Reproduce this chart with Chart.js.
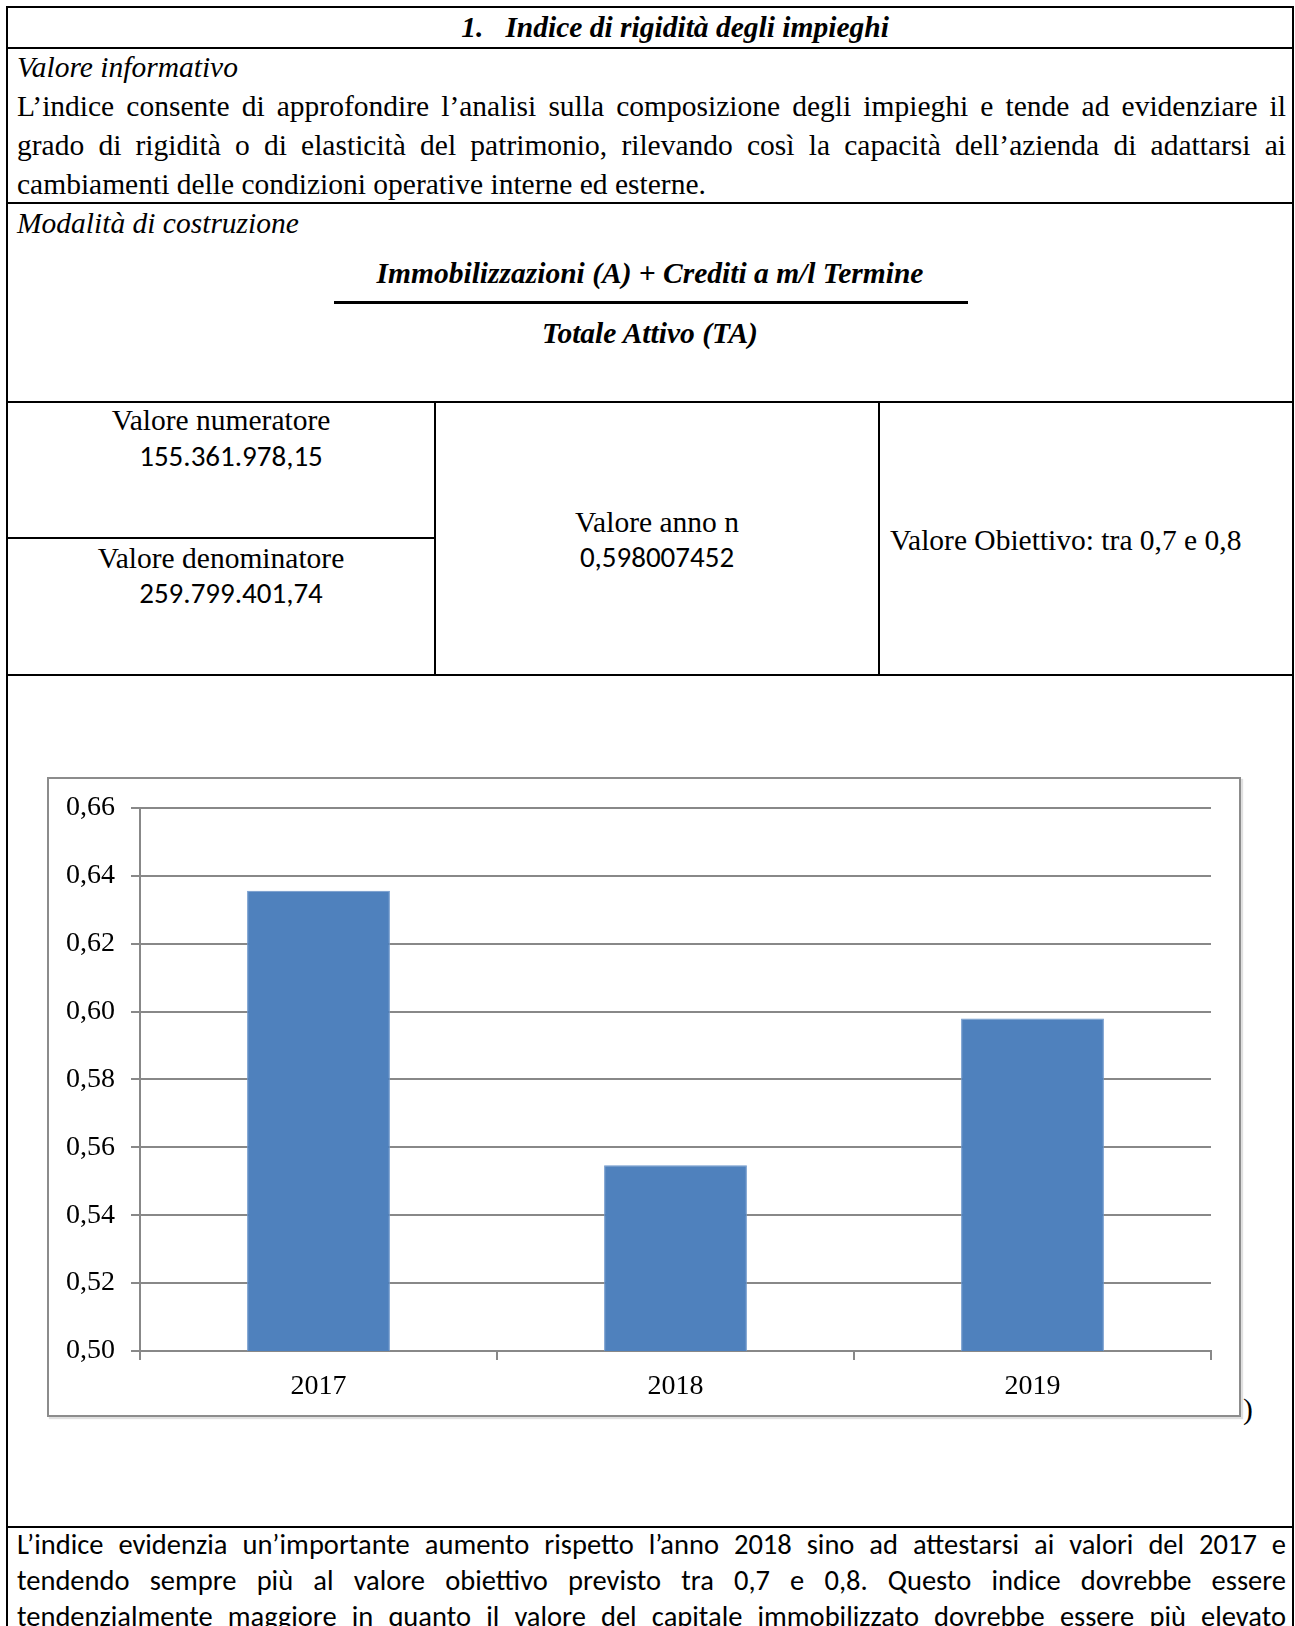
<!DOCTYPE html>
<html lang="it">
<head>
<meta charset="utf-8">
<title>Indice di rigidità degli impieghi</title>
<script src="https://cdn.jsdelivr.net/npm/chart.js@4.4.1/dist/chart.umd.min.js"></script>
<style>
    html, body { margin: 0; padding: 0; background: #fff; }
    body {
        width: 1295px; height: 1626px; overflow: hidden; position: relative;
        font-family: 'Liberation Serif', 'Times New Roman', serif;
        font-size: 29.5px; color: #000;
    }
    .abs     { position: absolute; }
    .linea-h { position: absolute; height: 2px; background: #000; }
    .linea-v { position: absolute; width: 2px;  background: #000; }
    .just    { text-align: justify; text-align-last: justify; }
    .sans    { font-family: Carlito, Calibri, Lato, sans-serif; font-size: 28.5px; }
    .numero  { font-family: Carlito, Calibri, Lato, sans-serif; font-size: 29px; }
    .centro  { text-align: center; }

    #cornice {
        position: absolute; left: 47px; top: 777px; width: 1194px; height: 640px;
        box-sizing: border-box; border: 2px solid #8c8c8c;
        box-shadow: 2px 2px 1px rgba(0,0,0,0.12);
    }
    #graficoWrap { position: absolute; left: 48px; top: 778px; width: 1192px; height: 638px; }
</style>
</head>
<body>

<!-- bordi della tabella -->
<div class="linea-h" style="left:6px;top:6px;width:1288px"></div>
<div class="linea-v" style="left:6px;top:6px;height:1620px"></div>
<div class="linea-v" style="left:1292px;top:6px;height:1620px"></div>
<div class="linea-h" style="left:6px;top:47px;width:1288px"></div>
<div class="linea-h" style="left:6px;top:202px;width:1288px"></div>
<div class="linea-h" style="left:6px;top:401px;width:1288px"></div>
<div class="linea-h" style="left:6px;top:674px;width:1288px"></div>
<div class="linea-h" style="left:6px;top:1526px;width:1288px"></div>
<div class="linea-v" style="left:434px;top:401px;height:275px"></div>
<div class="linea-v" style="left:878px;top:401px;height:275px"></div>
<div class="linea-h" style="left:6px;top:537px;width:430px"></div>

<!-- titolo -->
<div class="abs centro" style="left:8px;top:8px;width:1234px;padding-left:50px;line-height:39px;font-weight:bold;font-style:italic">
    1.&nbsp;&nbsp;&nbsp;Indice di rigidità degli impieghi
</div>

<!-- valore informativo -->
<div class="abs" style="left:17px;top:48px;width:1269px;line-height:39px">
    <div><i>Valore informativo</i></div>
    <div class="just">L’indice consente di approfondire l’analisi sulla composizione degli impieghi e tende ad evidenziare il</div>
    <div class="just">grado di rigidità o di elasticità del patrimonio, rilevando così la capacità dell’azienda di adattarsi ai</div>
    <div>cambiamenti delle condizioni operative interne ed esterne.</div>
</div>

<!-- modalità di costruzione -->
<div class="abs" style="left:17px;top:204px;line-height:39px"><i>Modalità di costruzione</i></div>
<div class="abs centro" style="left:8px;top:254px;width:1284px;line-height:39px;font-weight:bold;font-style:italic">
    Immobilizzazioni (A) + Crediti a m/l Termine
</div>
<div class="abs" style="left:334px;top:301px;width:634px;height:3px;background:#000"></div>
<div class="abs centro" style="left:8px;top:314px;width:1284px;line-height:39px;font-weight:bold;font-style:italic">
    Totale Attivo (TA)
</div>

<!-- valori -->
<div class="abs centro" style="left:8px;top:403px;width:426px;line-height:34px">Valore numeratore</div>
<div class="abs centro numero" style="left:28px;top:439px;width:406px;line-height:34px">155.361.978,15</div>
<div class="abs centro" style="left:8px;top:541px;width:426px;line-height:34px">Valore denominatore</div>
<div class="abs centro numero" style="left:28px;top:576px;width:406px;line-height:34px">259.799.401,74</div>

<div class="abs centro" style="left:436px;top:505px;width:442px;line-height:34px">Valore anno n</div>
<div class="abs centro numero" style="left:436px;top:540px;width:442px;line-height:34px">0,598007452</div>

<div class="abs" style="left:890px;top:523px;line-height:34px">Valore Obiettivo: tra 0,7 e 0,8</div>

<!-- grafico -->
<div id="cornice"></div>
<div id="graficoWrap"><canvas id="grafico" width="1192" height="638"></canvas></div>
<div class="abs" style="left:1243px;top:1391px;line-height:36px">)</div>

<!-- commento -->
<div class="abs sans" style="left:17px;top:1527px;width:1269px;line-height:36px">
    <div class="just">L’indice evidenzia un’importante aumento rispetto l’anno 2018 sino ad attestarsi ai valori del 2017 e</div>
    <div class="just">tendendo sempre più al valore obiettivo previsto tra 0,7 e 0,8. Questo indice dovrebbe essere</div>
    <div class="just">tendenzialmente maggiore in quanto il valore del capitale immobilizzato dovrebbe essere più elevato</div>
</div>

<script>
/* ── Dati ── */
const anni         = ['2017', '2018', '2019'];
const valoriIndice = [0.6356, 0.5547, 0.598007452];

const yMin  = 0.50;
const yMax  = 0.66;
const yStep = 0.02;

/* ── Stile ── */
const grigio   = '#888888';
const fontAssi = { family: "'Liberation Serif', serif", size: 28 };

/* ── Grafico a barre ── */
const ctx = document.getElementById('grafico').getContext('2d');

new Chart(ctx, {
    type: 'bar',
    data: {
        labels: anni,
        datasets: [{
            data: valoriIndice,
            backgroundColor: '#4f81bd',
            borderColor: '#6d97cc',
            borderWidth: 1,
            barPercentage: 0.4,
            categoryPercentage: 1
        }]
    },
    options: {
        responsive: false,
        animation: false,
        devicePixelRatio: 1,
        layout: { padding: { top: 30, right: 29, left: 0, bottom: 0 } },
        plugins: {
            legend:  { display: false },
            tooltip: { enabled: false }
        },
        scales: {
            x: {
                grid: {
                    offset: true,
                    drawOnChartArea: false,
                    drawTicks: true,
                    tickLength: 9,
                    color: grigio,
                    lineWidth: 2
                },
                border: { color: grigio, width: 2 },
                ticks: { color: '#000', font: fontAssi, padding: 10 },
                afterFit: s => { s.height = 65; }
            },
            y: {
                min: yMin,
                max: yMax,
                ticks: {
                    stepSize: yStep,
                    color: '#000',
                    font: fontAssi,
                    padding: 16,
                    callback: v => v.toFixed(2).replace('.', ',')
                },
                grid:   { color: grigio, lineWidth: 2, tickLength: 9 },
                border: { color: grigio, width: 2 },
                // larghezza fissa e niente margine extra sopra/sotto per le etichette
                afterFit: s => { s.width = 92; s.paddingTop = 0; s.paddingBottom = 0; }
            }
        }
    }
});
</script>
</body>
</html>
